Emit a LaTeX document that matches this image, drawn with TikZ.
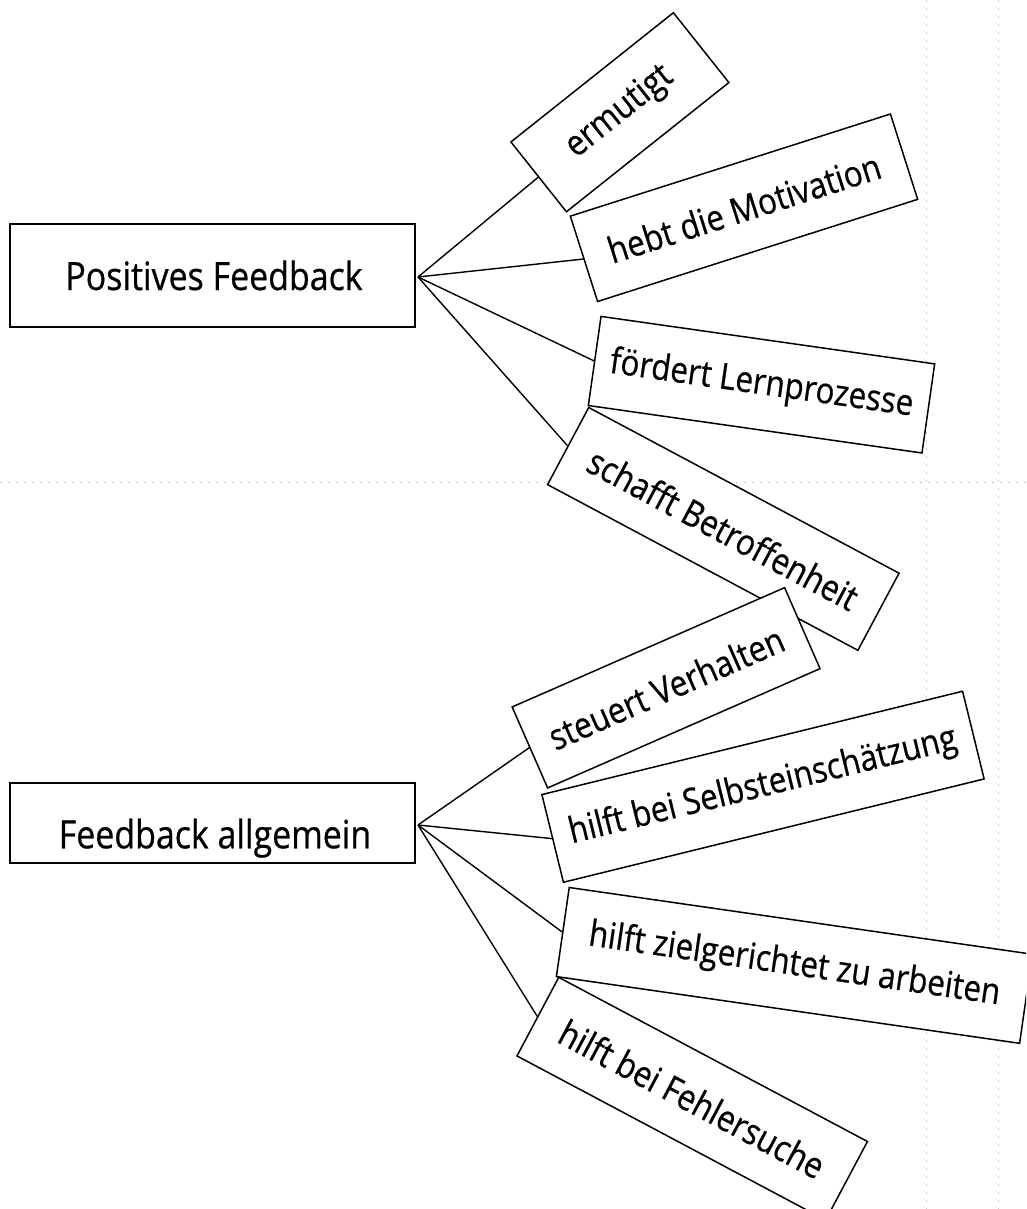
\documentclass[tikz,border=0pt]{standalone}
\usepackage{fontspec}
\setmainfont[FakeStretch=0.87,FakeBold=0.6]{Open Sans}
\begin{document}
\begin{tikzpicture}[x=1pt,y=-1pt,
  mainbox/.style={draw, line width=2pt, minimum width=405pt, inner sep=0pt},
  card/.style={draw, fill=white, line width=1.5pt, inner sep=0pt,
    font=\fontsize{36}{42}\selectfont},
  maintxt/.style={font=\fontsize{39}{45}\selectfont, inner sep=0pt, anchor=base},
  link/.style={line width=1.4pt},
  scan/.style={black!22, line width=1pt, dash pattern=on 2pt off 6pt}]
\useasboundingbox (0,0) rectangle (1026,1209);
\clip (0,0) rectangle (1026,1209);
\fill[white] (0,0) rectangle (1026,1209);
% faint scan marks
\draw[scan] (926.7,0) -- (926.7,1209);
\draw[scan] (998.3,0) -- (998.3,1209);
\draw[scan] (0,482) -- (1026,482);
% main boxes
\node[mainbox, minimum height=102.7pt] (pos) at (212.5,275.3) {};
\node[maintxt] (posT) at (214,290) {Positives Feedback};
\node[mainbox, minimum height=80pt] (allg) at (212.5,822.7) {};
\node[maintxt] (allgT) at (215,848.3) {Feedback allgemein};
\coordinate (h1) at (418,277);
\coordinate (h2) at (418,825);
% cards (upper)
\node[card, rotate=38.5, minimum width=207.6pt, minimum height=89.2pt] (c1) at (619.9,112.25) {ermutigt};
\node[card, rotate=17.7, minimum width=336pt, minimum height=89.6pt] (c2) at (744,207.75) {hebt die Motivation};
\node[card, rotate=-28.1, minimum width=351.8pt, minimum height=87.4pt] (c4) at (723.3,528.9) {schafft Betroffenheit};
\node[card, rotate=-8.1, minimum width=337pt, minimum height=90pt] (c3) at (761.5,384.7) {fördert Lernprozesse};
% cards (lower)
\node[card, rotate=23.65, minimum width=297.4pt, minimum height=88.4pt] (d1) at (666.1,687.8) {steuert Verhalten};
\node[card, rotate=13.8, minimum width=433.2pt, minimum height=90.3pt] (d2) at (763,786.75) {hilft bei Selbsteinschätzung};
\node[card, rotate=-28, minimum width=349.6pt, minimum height=89pt] (d4) at (692.2,1098.7) {hilft bei Fehlersuche};
\node[card, rotate=-8.2, minimum width=468pt, minimum height=90pt] (d3) at (794.4,965.4) {hilft zielgerichtet zu arbeiten};
% connectors
\draw[link] (h1) -- (c1.west);
\draw[link] (h1) -- (c2.west);
\draw[link] (h1) -- (c3.west);
\draw[link] (h1) -- (c4.west);
\draw[link] (h2) -- (d1.west);
\draw[link] (h2) -- (d2.west);
\draw[link] (h2) -- (d3.west);
\draw[link] (h2) -- (d4.west);
\end{tikzpicture}
\end{document}
